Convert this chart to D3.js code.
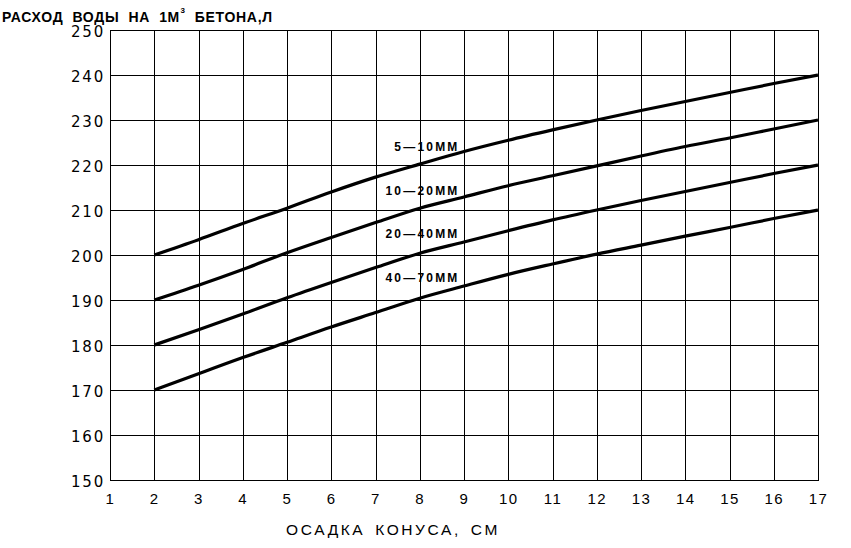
<!DOCTYPE html>
<html>
<head>
<meta charset="utf-8">
<script src="https://cdn.jsdelivr.net/npm/d3@7"></script>
<style>
  html, body { margin: 0; padding: 0; background: #fff; }
  svg { display: block; }
</style>
</head>
<body>
<svg id="chart" width="851" height="548"></svg>
<script>
// ---- data ----
const xTicks = [1, 2, 3, 4, 5, 6, 7, 8, 9, 10, 11, 12, 13, 14, 15, 16, 17];
const yTicks = [150, 160, 170, 180, 190, 200, 210, 220, 230, 240, 250];
const slump = [2, 3, 4, 5, 6, 7, 8, 9, 10, 11, 12, 13, 14, 15, 16, 17];
const water5_10 = [200, 203.4, 207, 210.4, 214, 217.3, 220.2, 223, 225.5, 227.8, 230, 232.1, 234.1, 236.1, 238.1, 240];
const water10_20 = [190, 193.3, 196.8, 200.5, 203.9, 207.2, 210.4, 212.9, 215.4, 217.6, 219.8, 222, 224.1, 226, 228, 230];
const water20_40 = [180, 183.4, 186.9, 190.5, 193.9, 197.2, 200.4, 202.9, 205.4, 207.8, 210, 212.1, 214.1, 216.1, 218.1, 220];
const water40_70 = [170, 173.6, 177.2, 180.6, 184, 187.2, 190.4, 193.1, 195.7, 198, 200.2, 202.2, 204.2, 206.1, 208.1, 210];
const seriesLabels = ["5—10ММ", "10—20ММ", "20—40ММ", "40—70ММ"];
const labelX = [8.9, 8.9, 8.9, 8.9];
const labelY = [223.1, 213.4, 203.7, 193.9];
const titleMain = "РАСХОД ВОДЫ НА 1М";
const titleSup = "3";
const titleRest = " БЕТОНА,Л";
const xTitle = "ОСАДКА КОНУСА, СМ";

// ---- layout ----
const svg = d3.select("#chart");
const margin = {left: 110, top: 30, right: 33, bottom: 68};
const W = 851, H = 548;
const iw = W - margin.left - margin.right;
const ih = H - margin.top - margin.bottom;

const x = d3.scaleLinear().domain([1, 17]).range([margin.left, margin.left + iw]);
const y = d3.scaleLinear().domain([150, 250]).range([margin.top + ih, margin.top]);

// y axis with grid
const gy = svg.append("g")
  .attr("transform", `translate(${margin.left},0)`)
  .call(d3.axisLeft(y).tickValues(yTicks).tickSize(-iw).tickPadding(5).tickFormat(d3.format("d")));
gy.selectAll(".tick line").attr("stroke", "#000").attr("stroke-width", 1).attr("shape-rendering", "crispEdges");
gy.select(".domain").attr("stroke", "#000").attr("stroke-width", 1).attr("shape-rendering", "crispEdges");
gy.selectAll(".tick text")
  .attr("fill", "#000")
  .style("font-family", "'DejaVu Sans', sans-serif")
  .style("font-size", "15px")
  .style("letter-spacing", "1.8px")
  .attr("dy", "0.45em");

// x axis with grid
const gx = svg.append("g")
  .attr("transform", `translate(0,${margin.top + ih})`)
  .call(d3.axisBottom(x).tickValues(xTicks).tickSize(-ih).tickPadding(13).tickFormat(d3.format("d")));
gx.selectAll(".tick line").attr("stroke", "#000").attr("stroke-width", 1).attr("shape-rendering", "crispEdges");
gx.select(".domain").attr("stroke", "#000").attr("stroke-width", 1).attr("shape-rendering", "crispEdges");
gx.selectAll(".tick text")
  .attr("fill", "#000")
  .style("font-family", "'Liberation Sans', Arial, sans-serif")
  .style("font-size", "15px")
  .style("letter-spacing", "1.5px");

// curves
const allSeries = [water5_10, water10_20, water20_40, water40_70];
const line = d3.line()
  .x(d => x(d[0]))
  .y(d => y(d[1]))
  .curve(d3.curveMonotoneX);

svg.append("g").selectAll("path.curve")
  .data(allSeries)
  .join("path")
  .attr("class", "curve")
  .attr("fill", "none")
  .attr("stroke", "#000")
  .attr("stroke-width", 3.2)
  .attr("d", s => line(slump.map((v, i) => [v, s[i]])));

// series labels
svg.append("g").selectAll("text.lbl")
  .data(seriesLabels)
  .join("text")
  .attr("class", "lbl")
  .attr("x", (d, i) => x(labelX[i]))
  .attr("y", (d, i) => y(labelY[i]))
  .attr("text-anchor", "end")
  .attr("fill", "#000")
  .style("font-family", "'Liberation Sans', Arial, sans-serif")
  .style("font-weight", "bold")
  .style("font-size", "12px")
  .style("letter-spacing", "2.2px")
  .text(d => d);

// title
const t = svg.append("text")
  .attr("x", 2)
  .attr("y", 22)
  .attr("fill", "#000")
  .style("font-family", "'Liberation Sans', Arial, sans-serif")
  .style("font-weight", "bold")
  .style("font-size", "14px")
  .style("letter-spacing", "0.7px")
  .style("word-spacing", "4.5px");
t.append("tspan").text(titleMain);
t.append("tspan").attr("dy", -9).attr("dx", 0.5).style("font-size", "8px").text(titleSup);
t.append("tspan").attr("dy", 9).text(titleRest);

// x title
svg.append("text")
  .attr("x", 393)
  .attr("y", 535)
  .attr("text-anchor", "middle")
  .attr("fill", "#000")
  .style("font-family", "'Liberation Sans', Arial, sans-serif")
  .style("font-size", "15.5px")
  .style("letter-spacing", "2.6px")
  .style("word-spacing", "3px")
  .text(xTitle);
</script>
</body>
</html>
